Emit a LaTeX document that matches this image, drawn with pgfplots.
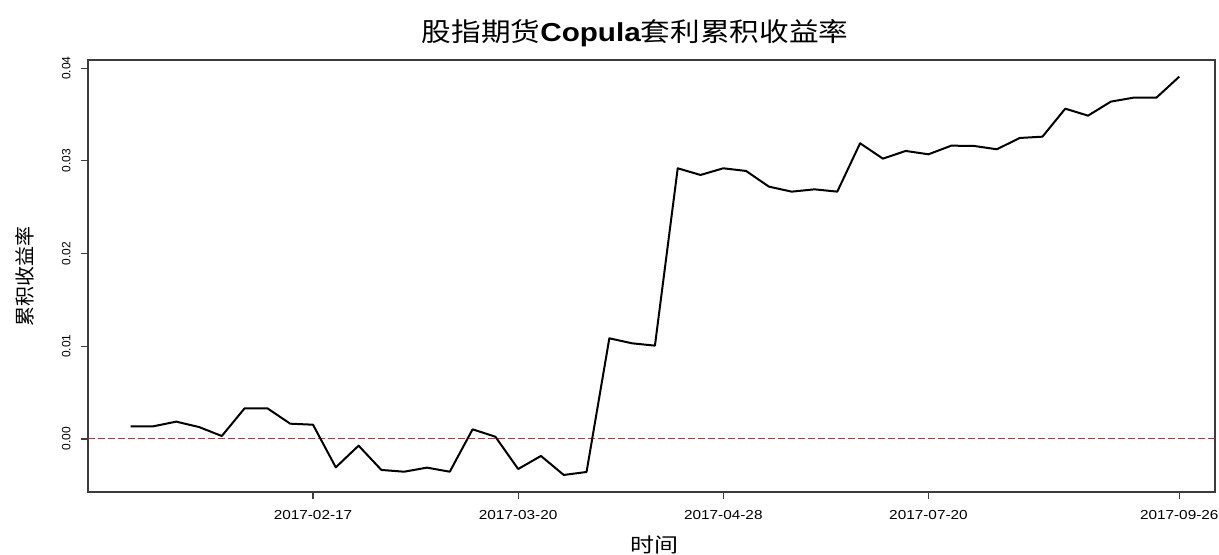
\documentclass[border=0pt]{standalone}
\usepackage{fontspec}
\setmainfont{Liberation Sans}
\newfontfamily\cjk{Noto Sans CJK SC}
\usepackage{pgfplots}
\pgfplotsset{compat=1.18}
\definecolor{zeroRed}{RGB}{205,45,50}
\definecolor{frameGray}{RGB}{60,60,60}
\begin{document}
\begin{tikzpicture}
\path[use as bounding box] (-44pt,-31pt) rectangle (565.5pt,246pt);
\begin{axis}[
  at={(0,0)}, anchor=south west,
  scale only axis, width=563.5pt, height=216pt,
  xmin=-1.87, xmax=47.57,
  ymin=-0.00572, ymax=0.04088,
  scaled y ticks=false, scaled x ticks=false,
  axis line style={frameGray, line width=0.6pt},
  tick style={frameGray, line width=0.6pt},
  tick align=outside, major tick length=3.5pt,
  xtick pos=bottom, ytick pos=left,
  xtick={8,17,26,35,46},
  xticklabels={2017-02-17,2017-03-20,2017-04-28,2017-07-20,2017-09-26},
  ytick={0,0.01,0.02,0.03,0.04},
  yticklabels={0.00,0.01,0.02,0.03,0.04},
  xticklabel style={font=\fontsize{6.5pt}{7pt}\selectfont, inner sep=0pt, anchor=north, xscale=1.18, yshift=-5.5pt},
  yticklabel style={font=\fontsize{6pt}{7pt}\selectfont, rotate=90, anchor=south, inner sep=0pt},
  yticklabel shift=5pt,
  title={\cjk 股指期货{\normalfont\bfseries Copula}套利累积收益率},
  title style={at={(axis description cs:0.4854,1.0336)}, anchor=center, font=\fontsize{13pt}{15pt}\selectfont, xscale=1.14},
  xlabel={\cjk 时间},
  xlabel style={at={(axis description cs:0.503,-0.1227)}, anchor=center, font=\fontsize{10pt}{12pt}\selectfont, xscale=1.2},
  ylabel={\cjk 累积收益率},
  ylabel style={at={(axis description cs:-0.0559,0.5)}, anchor=center, rotate=0, font=\fontsize{10pt}{12pt}\selectfont},
]
\addplot[zeroRed, line width=0.5pt, dash pattern=on 3.3pt off 1.7pt, forget plot] coordinates {(-1.87,0) (47.57,0)};
\addplot[black, line width=1pt, line join=round, mark=none] table {
x y
0 0.00137
1 0.00137
2 0.00187
3 0.00129
4 0.00032
5 0.00331
6 0.00331
7 0.00165
8 0.00154
9 -0.00306
10 -0.00072
11 -0.00334
12 -0.00353
13 -0.00309
14 -0.00353
15 0.00104
16 0.00025
17 -0.00324
18 -0.00183
19 -0.00388
20 -0.00356
21 0.01086
22 0.01032
23 0.01007
24 0.02920
25 0.02848
26 0.02920
27 0.02891
28 0.02722
29 0.02668
30 0.02693
31 0.02668
32 0.03190
33 0.03024
34 0.03107
35 0.03071
36 0.03164
37 0.03161
38 0.03125
39 0.03247
40 0.03261
41 0.03563
42 0.03488
43 0.03639
44 0.03682
45 0.03682
46 0.03908
};
\end{axis}
\end{tikzpicture}
\end{document}
